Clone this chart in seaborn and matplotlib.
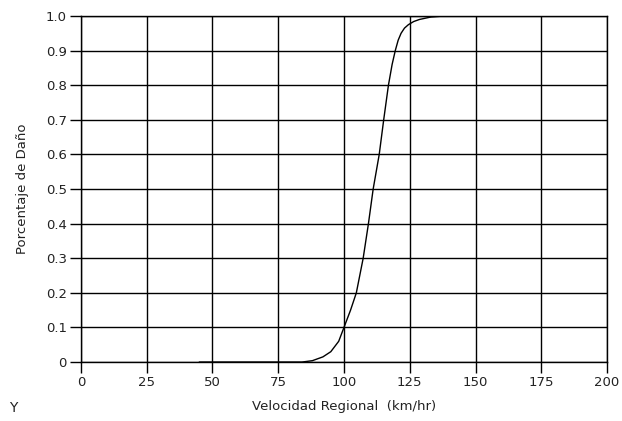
import pandas as pd
import seaborn as sns
import matplotlib.pyplot as plt

# damage curve
velocidad = [45, 84, 88, 92, 95, 98, 100, 102.5, 104.7, 107.3, 109.3, 111.1,
             113.4, 115.1, 116.9, 118.3, 119.5, 120.6, 121.7, 123, 124.5,
             126.5, 128.7, 133, 138]
dano = [0, 0, 0.004, 0.015, 0.03, 0.06, 0.1, 0.15, 0.2, 0.3, 0.4, 0.5,
        0.6, 0.7, 0.8, 0.86, 0.9, 0.93, 0.95, 0.965, 0.975,
        0.984, 0.99, 0.997, 1.0]

x_ticks = [0, 25, 50, 75, 100, 125, 150, 175, 200]
y_ticks = [0, 0.1, 0.2, 0.3, 0.4, 0.5, 0.6, 0.7, 0.8, 0.9, 1.0]
y_labels = ["0", "0.1", "0.2", "0.3", "0.4", "0.5", "0.6", "0.7", "0.8", "0.9", "1.0"]

df = pd.DataFrame({"vel": velocidad, "dano": dano})

sns.set_style("white")
plt.rcParams["font.family"] = ["DejaVu Sans"]

fig = plt.figure(figsize=(6.22, 4.21), dpi=100)
ax = fig.add_axes([0.130, 0.140, 0.846, 0.822])

sns.lineplot(data=df, x="vel", y="dano", color="black", linewidth=1.0, ax=ax)

ax.set_xlim(0, 200)
ax.set_ylim(0, 1.0)
ax.set_xticks(x_ticks)
ax.set_yticks(y_ticks)
ax.set_yticklabels(y_labels)
ax.grid(True, color="black", linewidth=1.0)
ax.set_axisbelow(True)
for s in ax.spines.values():
    s.set_color("black")
    s.set_linewidth(1.0)
ax.tick_params(direction="out", length=8, width=1.0, color="black",
               labelsize=9.5, labelcolor="#222222", left=True, bottom=True, pad=2)

ax.set_xlabel("Velocidad Regional  (km/hr)", fontsize=9.5, color="#222222", labelpad=8)
ax.set_ylabel("Porcentaje de Daño", fontsize=9.5, color="#222222", labelpad=12)
fig.text(0.022, 0.03, "Y", fontsize=10, color="#222222", ha="center", va="center")

plt.savefig("out.png", dpi=100)
